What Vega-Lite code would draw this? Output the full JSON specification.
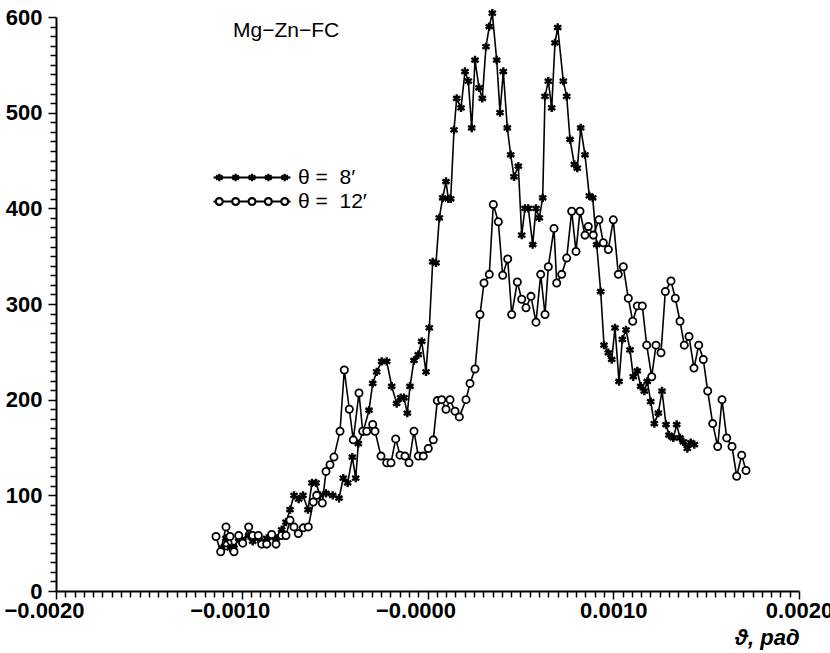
{
  "$schema": "https://vega.github.io/schema/vega-lite/v6.json",
  "width": 743,
  "height": 574,
  "autosize": "none",
  "padding": {"left": 56, "top": 17, "right": 31, "bottom": 62},
  "background": "white",
  "config": {"view": {"stroke": null}, "font": "Liberation Sans"},
  "title": {"text": "Mg−Zn−FC", "anchor": "start", "frame": "group", "offset": 0, "dx": 177, "dy": 54, "baseline": "alphabetic", "fontSize": 21, "fontWeight": "normal", "font": "Liberation Sans", "color": "black"},
  "data": {"values": [
    {"theta": "θ = 8′", "x": -0.0011063, "y": 45},
    {"theta": "θ = 8′", "x": -0.0010848, "y": 55},
    {"theta": "θ = 8′", "x": -0.0010633, "y": 45},
    {"theta": "θ = 8′", "x": -0.0010417, "y": 45},
    {"theta": "θ = 8′", "x": -0.0010164, "y": 55},
    {"theta": "θ = 8′", "x": -0.0009949, "y": 52},
    {"theta": "θ = 8′", "x": -0.0009626, "y": 58},
    {"theta": "θ = 8′", "x": -0.000941, "y": 52},
    {"theta": "θ = 8′", "x": -0.0009109, "y": 55},
    {"theta": "θ = 8′", "x": -0.0008926, "y": 52},
    {"theta": "θ = 8′", "x": -0.0008657, "y": 55},
    {"theta": "θ = 8′", "x": -0.0008388, "y": 58},
    {"theta": "θ = 8′", "x": -0.0008156, "y": 55},
    {"theta": "θ = 8′", "x": -0.0007849, "y": 64},
    {"theta": "θ = 8′", "x": -0.0007618, "y": 72},
    {"theta": "θ = 8′", "x": -0.0007402, "y": 85},
    {"theta": "θ = 8′", "x": -0.0007187, "y": 100},
    {"theta": "θ = 8′", "x": -0.0006934, "y": 96},
    {"theta": "θ = 8′", "x": -0.0006703, "y": 100},
    {"theta": "θ = 8′", "x": -0.0006433, "y": 85},
    {"theta": "θ = 8′", "x": -0.0006218, "y": 113},
    {"theta": "θ = 8′", "x": -0.0006003, "y": 113},
    {"theta": "θ = 8′", "x": -0.0005787, "y": 100},
    {"theta": "θ = 8′", "x": -0.0005464, "y": 102},
    {"theta": "θ = 8′", "x": -0.0005103, "y": 100},
    {"theta": "θ = 8′", "x": -0.0004764, "y": 97},
    {"theta": "θ = 8′", "x": -0.0004533, "y": 118},
    {"theta": "θ = 8′", "x": -0.0004296, "y": 113},
    {"theta": "θ = 8′", "x": -0.0004048, "y": 140},
    {"theta": "θ = 8′", "x": -0.0003865, "y": 118},
    {"theta": "θ = 8′", "x": -0.0003725, "y": 154},
    {"theta": "θ = 8′", "x": -0.0003456, "y": 167},
    {"theta": "θ = 8′", "x": -0.0003149, "y": 189},
    {"theta": "θ = 8′", "x": -0.000295, "y": 217},
    {"theta": "θ = 8′", "x": -0.0002735, "y": 229},
    {"theta": "θ = 8′", "x": -0.0002466, "y": 240},
    {"theta": "θ = 8′", "x": -0.0002196, "y": 240},
    {"theta": "θ = 8′", "x": -0.0001927, "y": 214},
    {"theta": "θ = 8′", "x": -0.0001658, "y": 196},
    {"theta": "θ = 8′", "x": -0.0001443, "y": 202},
    {"theta": "θ = 8′", "x": -0.0001265, "y": 202},
    {"theta": "θ = 8′", "x": -0.0001087, "y": 186},
    {"theta": "θ = 8′", "x": -0.0000942, "y": 214},
    {"theta": "θ = 8′", "x": -0.0000727, "y": 241},
    {"theta": "θ = 8′", "x": -0.0000495, "y": 247},
    {"theta": "θ = 8′", "x": -0.0000312, "y": 261},
    {"theta": "θ = 8′", "x": -0.0000081, "y": 229},
    {"theta": "θ = 8′", "x": 0.0000097, "y": 275},
    {"theta": "θ = 8′", "x": 0.000028, "y": 344},
    {"theta": "θ = 8′", "x": 0.0000458, "y": 343},
    {"theta": "θ = 8′", "x": 0.0000635, "y": 390},
    {"theta": "θ = 8′", "x": 0.0000818, "y": 411},
    {"theta": "θ = 8′", "x": 0.0000996, "y": 428},
    {"theta": "θ = 8′", "x": 0.000112, "y": 410},
    {"theta": "θ = 8′", "x": 0.0001249, "y": 410},
    {"theta": "θ = 8′", "x": 0.0001427, "y": 482},
    {"theta": "θ = 8′", "x": 0.0001572, "y": 515},
    {"theta": "θ = 8′", "x": 0.0001804, "y": 505},
    {"theta": "θ = 8′", "x": 0.0002019, "y": 543},
    {"theta": "θ = 8′", "x": 0.0002197, "y": 533},
    {"theta": "θ = 8′", "x": 0.000238, "y": 484},
    {"theta": "θ = 8′", "x": 0.0002557, "y": 555},
    {"theta": "θ = 8′", "x": 0.0002773, "y": 526},
    {"theta": "θ = 8′", "x": 0.000295, "y": 515},
    {"theta": "θ = 8′", "x": 0.0003149, "y": 569},
    {"theta": "θ = 8′", "x": 0.0003327, "y": 590},
    {"theta": "θ = 8′", "x": 0.0003489, "y": 604},
    {"theta": "θ = 8′", "x": 0.0003726, "y": 555},
    {"theta": "θ = 8′", "x": 0.0003903, "y": 500},
    {"theta": "θ = 8′", "x": 0.0004081, "y": 543},
    {"theta": "θ = 8′", "x": 0.0004296, "y": 484},
    {"theta": "θ = 8′", "x": 0.0004479, "y": 456},
    {"theta": "θ = 8′", "x": 0.0004657, "y": 433},
    {"theta": "θ = 8′", "x": 0.0004889, "y": 444},
    {"theta": "θ = 8′", "x": 0.0005072, "y": 372},
    {"theta": "θ = 8′", "x": 0.0005249, "y": 400},
    {"theta": "θ = 8′", "x": 0.0005427, "y": 400},
    {"theta": "θ = 8′", "x": 0.0005664, "y": 362},
    {"theta": "θ = 8′", "x": 0.0005841, "y": 400},
    {"theta": "θ = 8′", "x": 0.0006019, "y": 390},
    {"theta": "θ = 8′", "x": 0.0006202, "y": 411},
    {"theta": "θ = 8′", "x": 0.0006326, "y": 517},
    {"theta": "θ = 8′", "x": 0.0006504, "y": 533},
    {"theta": "θ = 8′", "x": 0.0006687, "y": 505},
    {"theta": "θ = 8′", "x": 0.0006864, "y": 573},
    {"theta": "θ = 8′", "x": 0.000701, "y": 589},
    {"theta": "θ = 8′", "x": 0.0007311, "y": 533},
    {"theta": "θ = 8′", "x": 0.0007494, "y": 517},
    {"theta": "θ = 8′", "x": 0.0007672, "y": 472},
    {"theta": "θ = 8′", "x": 0.0007903, "y": 446},
    {"theta": "θ = 8′", "x": 0.0008065, "y": 442},
    {"theta": "θ = 8′", "x": 0.0008248, "y": 484},
    {"theta": "θ = 8′", "x": 0.0008479, "y": 456},
    {"theta": "θ = 8′", "x": 0.0008711, "y": 413},
    {"theta": "θ = 8′", "x": 0.0008894, "y": 411},
    {"theta": "θ = 8′", "x": 0.0009109, "y": 362},
    {"theta": "θ = 8′", "x": 0.0009324, "y": 313},
    {"theta": "θ = 8′", "x": 0.0009502, "y": 257},
    {"theta": "θ = 8′", "x": 0.0009734, "y": 249},
    {"theta": "θ = 8′", "x": 0.0009917, "y": 242},
    {"theta": "θ = 8′", "x": 0.0010094, "y": 275},
    {"theta": "θ = 8′", "x": 0.001031, "y": 219},
    {"theta": "θ = 8′", "x": 0.0010488, "y": 263},
    {"theta": "θ = 8′", "x": 0.0010687, "y": 273},
    {"theta": "θ = 8′", "x": 0.0010902, "y": 252},
    {"theta": "θ = 8′", "x": 0.001108, "y": 224},
    {"theta": "θ = 8′", "x": 0.0011295, "y": 230},
    {"theta": "θ = 8′", "x": 0.0011478, "y": 214},
    {"theta": "θ = 8′", "x": 0.0011672, "y": 209},
    {"theta": "θ = 8′", "x": 0.0011834, "y": 219},
    {"theta": "θ = 8′", "x": 0.0012017, "y": 198},
    {"theta": "θ = 8′", "x": 0.001221, "y": 175},
    {"theta": "θ = 8′", "x": 0.0012426, "y": 186},
    {"theta": "θ = 8′", "x": 0.0012625, "y": 209},
    {"theta": "θ = 8′", "x": 0.001284, "y": 174},
    {"theta": "θ = 8′", "x": 0.0013001, "y": 163},
    {"theta": "θ = 8′", "x": 0.0013233, "y": 160},
    {"theta": "θ = 8′", "x": 0.0013416, "y": 174},
    {"theta": "θ = 8′", "x": 0.0013594, "y": 160},
    {"theta": "θ = 8′", "x": 0.0013771, "y": 156},
    {"theta": "θ = 8′", "x": 0.0013987, "y": 149},
    {"theta": "θ = 8′", "x": 0.001417, "y": 155},
    {"theta": "θ = 8′", "x": 0.0014364, "y": 153},
    {"theta": "θ = 12′", "x": -0.0011386, "y": 57},
    {"theta": "θ = 12′", "x": -0.0011133, "y": 41},
    {"theta": "θ = 12′", "x": -0.0010848, "y": 67},
    {"theta": "θ = 12′", "x": -0.0010633, "y": 57},
    {"theta": "θ = 12′", "x": -0.0010417, "y": 41},
    {"theta": "θ = 12′", "x": -0.0010164, "y": 58},
    {"theta": "θ = 12′", "x": -0.0009949, "y": 50},
    {"theta": "θ = 12′", "x": -0.0009626, "y": 67},
    {"theta": "θ = 12′", "x": -0.000941, "y": 58},
    {"theta": "θ = 12′", "x": -0.0009109, "y": 58},
    {"theta": "θ = 12′", "x": -0.0008926, "y": 49},
    {"theta": "θ = 12′", "x": -0.0008657, "y": 49},
    {"theta": "θ = 12′", "x": -0.0008388, "y": 59},
    {"theta": "θ = 12′", "x": -0.0008156, "y": 49},
    {"theta": "θ = 12′", "x": -0.0007849, "y": 58},
    {"theta": "θ = 12′", "x": -0.0007618, "y": 58},
    {"theta": "θ = 12′", "x": -0.0007402, "y": 74},
    {"theta": "θ = 12′", "x": -0.0007187, "y": 67},
    {"theta": "θ = 12′", "x": -0.0006955, "y": 60},
    {"theta": "θ = 12′", "x": -0.0006686, "y": 66},
    {"theta": "θ = 12′", "x": -0.0006417, "y": 67},
    {"theta": "θ = 12′", "x": -0.0006148, "y": 93},
    {"theta": "θ = 12′", "x": -0.0005965, "y": 100},
    {"theta": "θ = 12′", "x": -0.0005663, "y": 92},
    {"theta": "θ = 12′", "x": -0.0005464, "y": 125},
    {"theta": "θ = 12′", "x": -0.0005249, "y": 132},
    {"theta": "θ = 12′", "x": -0.0005034, "y": 140},
    {"theta": "θ = 12′", "x": -0.0004711, "y": 167},
    {"theta": "θ = 12′", "x": -0.0004479, "y": 231},
    {"theta": "θ = 12′", "x": -0.000421, "y": 190},
    {"theta": "θ = 12′", "x": -0.0003995, "y": 158},
    {"theta": "θ = 12′", "x": -0.0003688, "y": 207},
    {"theta": "θ = 12′", "x": -0.0003488, "y": 167},
    {"theta": "θ = 12′", "x": -0.0003273, "y": 167},
    {"theta": "θ = 12′", "x": -0.000295, "y": 174},
    {"theta": "θ = 12′", "x": -0.0002826, "y": 167},
    {"theta": "θ = 12′", "x": -0.0002503, "y": 141},
    {"theta": "θ = 12′", "x": -0.0002196, "y": 134},
    {"theta": "θ = 12′", "x": -0.0001965, "y": 134},
    {"theta": "θ = 12′", "x": -0.0001712, "y": 159},
    {"theta": "θ = 12′", "x": -0.000148, "y": 142},
    {"theta": "θ = 12′", "x": -0.0001211, "y": 141},
    {"theta": "θ = 12′", "x": -0.0000996, "y": 134},
    {"theta": "θ = 12′", "x": -0.0000727, "y": 167},
    {"theta": "θ = 12′", "x": -0.0000495, "y": 141},
    {"theta": "θ = 12′", "x": -0.0000226, "y": 141},
    {"theta": "θ = 12′", "x": 0.0000043, "y": 149},
    {"theta": "θ = 12′", "x": 0.0000312, "y": 158},
    {"theta": "θ = 12′", "x": 0.0000528, "y": 199},
    {"theta": "θ = 12′", "x": 0.0000765, "y": 200},
    {"theta": "θ = 12′", "x": 0.0000996, "y": 190},
    {"theta": "θ = 12′", "x": 0.0001211, "y": 200},
    {"theta": "θ = 12′", "x": 0.0001481, "y": 188},
    {"theta": "θ = 12′", "x": 0.0001712, "y": 182},
    {"theta": "θ = 12′", "x": 0.0002073, "y": 200},
    {"theta": "θ = 12′", "x": 0.0002288, "y": 217},
    {"theta": "θ = 12′", "x": 0.0002557, "y": 232},
    {"theta": "θ = 12′", "x": 0.0002826, "y": 289},
    {"theta": "θ = 12′", "x": 0.0003042, "y": 322},
    {"theta": "θ = 12′", "x": 0.0003327, "y": 331},
    {"theta": "θ = 12′", "x": 0.0003543, "y": 404},
    {"theta": "θ = 12′", "x": 0.0003812, "y": 386},
    {"theta": "θ = 12′", "x": 0.0004049, "y": 330},
    {"theta": "θ = 12′", "x": 0.0004318, "y": 347},
    {"theta": "θ = 12′", "x": 0.0004533, "y": 289},
    {"theta": "θ = 12′", "x": 0.0004835, "y": 323},
    {"theta": "θ = 12′", "x": 0.0005072, "y": 305},
    {"theta": "θ = 12′", "x": 0.0005303, "y": 296},
    {"theta": "θ = 12′", "x": 0.0005572, "y": 308},
    {"theta": "θ = 12′", "x": 0.0005841, "y": 281},
    {"theta": "θ = 12′", "x": 0.0006094, "y": 331},
    {"theta": "θ = 12′", "x": 0.0006326, "y": 289},
    {"theta": "θ = 12′", "x": 0.0006504, "y": 339},
    {"theta": "θ = 12′", "x": 0.000681, "y": 379},
    {"theta": "θ = 12′", "x": 0.0006956, "y": 322},
    {"theta": "θ = 12′", "x": 0.0007225, "y": 331},
    {"theta": "θ = 12′", "x": 0.0007494, "y": 348},
    {"theta": "θ = 12′", "x": 0.0007763, "y": 397},
    {"theta": "θ = 12′", "x": 0.0007995, "y": 355},
    {"theta": "θ = 12′", "x": 0.000821, "y": 397},
    {"theta": "θ = 12′", "x": 0.0008479, "y": 372},
    {"theta": "θ = 12′", "x": 0.0008657, "y": 381},
    {"theta": "θ = 12′", "x": 0.0008927, "y": 372},
    {"theta": "θ = 12′", "x": 0.0009232, "y": 388},
    {"theta": "θ = 12′", "x": 0.0009465, "y": 364},
    {"theta": "θ = 12′", "x": 0.0009734, "y": 357},
    {"theta": "θ = 12′", "x": 0.0010003, "y": 388},
    {"theta": "θ = 12′", "x": 0.0010272, "y": 331},
    {"theta": "θ = 12′", "x": 0.0010542, "y": 339},
    {"theta": "θ = 12′", "x": 0.0010811, "y": 306},
    {"theta": "θ = 12′", "x": 0.0011048, "y": 282},
    {"theta": "θ = 12′", "x": 0.0011295, "y": 298},
    {"theta": "θ = 12′", "x": 0.0011564, "y": 298},
    {"theta": "θ = 12′", "x": 0.0011801, "y": 257},
    {"theta": "θ = 12′", "x": 0.001207, "y": 224},
    {"theta": "θ = 12′", "x": 0.0012302, "y": 257},
    {"theta": "θ = 12′", "x": 0.0012571, "y": 249},
    {"theta": "θ = 12′", "x": 0.0012803, "y": 313},
    {"theta": "θ = 12′", "x": 0.0013109, "y": 324},
    {"theta": "θ = 12′", "x": 0.0013341, "y": 306},
    {"theta": "θ = 12′", "x": 0.0013594, "y": 282},
    {"theta": "θ = 12′", "x": 0.0013825, "y": 257},
    {"theta": "θ = 12′", "x": 0.0014078, "y": 266},
    {"theta": "θ = 12′", "x": 0.0014347, "y": 233},
    {"theta": "θ = 12′", "x": 0.00146, "y": 257},
    {"theta": "θ = 12′", "x": 0.0014848, "y": 242},
    {"theta": "θ = 12′", "x": 0.0015085, "y": 209},
    {"theta": "θ = 12′", "x": 0.0015354, "y": 175},
    {"theta": "θ = 12′", "x": 0.0015623, "y": 151},
    {"theta": "θ = 12′", "x": 0.0015855, "y": 200},
    {"theta": "θ = 12′", "x": 0.0016108, "y": 160},
    {"theta": "θ = 12′", "x": 0.0016393, "y": 151},
    {"theta": "θ = 12′", "x": 0.0016646, "y": 120},
    {"theta": "θ = 12′", "x": 0.0016915, "y": 142},
    {"theta": "θ = 12′", "x": 0.0017147, "y": 126}
  ]},
  "encoding": {
    "x": {
      "field": "x", "type": "quantitative",
      "scale": {"domain": [-0.002, 0.002], "nice": false, "zero": false},
      "axis": {
        "values": [-0.002,-0.00195,-0.0019,-0.00185,-0.0018,-0.00175,-0.0017,-0.00165,-0.0016,-0.00155,-0.0015,-0.00145,-0.0014,-0.00135,-0.0013,-0.00125,-0.0012,-0.00115,-0.0011,-0.00105,-0.001,-0.00095,-0.0009,-0.00085,-0.0008,-0.00075,-0.0007,-0.00065,-0.0006,-0.00055,-0.0005,-0.00045,-0.0004,-0.00035,-0.0003,-0.00025,-0.0002,-0.00015,-0.0001,-0.00005,0,0.00005,0.0001,0.00015,0.0002,0.00025,0.0003,0.00035,0.0004,0.00045,0.0005,0.00055,0.0006,0.00065,0.0007,0.00075,0.0008,0.00085,0.0009,0.00095,0.001,0.00105,0.0011,0.00115,0.0012,0.00125,0.0013,0.00135,0.0014,0.00145,0.0015,0.00155,0.0016,0.00165,0.0017,0.00175,0.0018,0.00185,0.0019,0.00195,0.002],
        "grid": false,
        "domainColor": "black", "domainWidth": 2,
        "tickColor": "black", "tickWidth": 1.5,
        "tickSize": {"condition": {"test": "abs(datum.value*1000 - round(datum.value*1000)) < 1e-6", "value": 8}, "value": 6},
        "labelExpr": "abs(datum.value*1000 - round(datum.value*1000)) < 1e-6 ? (abs(datum.value) < 1e-9 ? '−0.0000' : format(datum.value, '.4f')) : ''",
        "labelOffset": {"condition": {"test": "datum.value < 0.0001", "value": -12}, "value": 0},
        "labelFontSize": 22, "labelFontWeight": "bold", "labelColor": "black", "labelPadding": 1,
        "labelOverlap": false, "labelFlush": false,
        "title": "ϑ, рад", "titleAnchor": "end", "titleAlign": "right",
        "titleFontSize": 22, "titleFontStyle": "italic", "titleFontWeight": "bold",
        "titleColor": "black", "titlePadding": 6
      }
    },
    "y": {
      "field": "y", "type": "quantitative",
      "scale": {"domain": [0, 600], "nice": false},
      "axis": {
        "values": [0,10,20,30,40,50,60,70,80,90,100,110,120,130,140,150,160,170,180,190,200,210,220,230,240,250,260,270,280,290,300,310,320,330,340,350,360,370,380,390,400,410,420,430,440,450,460,470,480,490,500,510,520,530,540,550,560,570,580,590,600],
        "grid": false,
        "domainColor": "black", "domainWidth": 2,
        "tickColor": "black", "tickWidth": 1.5,
        "tickSize": {"condition": {"test": "datum.value % 100 == 0", "value": 8}, "value": 6},
        "labelExpr": "datum.value % 100 == 0 ? datum.label : ''",
        "labelFontSize": 22, "labelFontWeight": "bold", "labelColor": "black", "labelPadding": 6,
        "labelOverlap": false, "labelFlush": false,
        "title": null
      }
    }
  },
  "layer": [
    {
      "mark": {"type": "line", "color": "black", "strokeWidth": 1.6},
      "encoding": {"detail": {"field": "theta"}}
    },
    {
      "transform": [{"filter": "datum.theta == 'θ = 8′'"}],
      "mark": {"type": "point", "shape": "M0,-1L0,1M-0.866,-0.5L0.866,0.5M-0.866,0.5L0.866,-0.5", "size": 70, "filled": false, "stroke": "black", "strokeWidth": 2.4, "opacity": 1}
    },
    {
      "transform": [{"filter": "datum.theta == 'θ = 12′'"}],
      "mark": {"type": "point", "shape": "circle", "size": 52, "fill": "white", "stroke": "black", "strokeWidth": 1.8, "opacity": 1}
    },
    {
      "transform": [{"filter": "false"}],
      "mark": {"type": "point", "filled": false, "color": "black", "strokeWidth": 2, "size": 5929, "opacity": 1},
      "encoding": {
        "shape": {
          "field": "theta", "type": "nominal",
          "scale": {
            "domain": ["θ = 8′", "θ = 12′"],
            "range": [
              "M-1,0L1,0M-0.85,-0.1L-0.85,0.1M-0.937,-0.05L-0.763,0.05M-0.937,0.05L-0.763,-0.05M-0.425,-0.1L-0.425,0.1M-0.512,-0.05L-0.338,0.05M-0.512,0.05L-0.338,-0.05M0,-0.1L0,0.1M-0.087,-0.05L0.087,0.05M-0.087,0.05L0.087,-0.05M0.425,-0.1L0.425,0.1M0.338,-0.05L0.512,0.05M0.338,0.05L0.512,-0.05M0.85,-0.1L0.85,0.1M0.763,-0.05L0.937,0.05M0.763,0.05L0.937,-0.05",
              "M-1,0L-0.94,0M-0.76,0L-0.515,0M-0.335,0L-0.09,0M0.09,0L0.335,0M0.515,0L0.76,0M0.94,0L1,0M-0.76,0A0.09,0.09 0 1,1 -0.94,0A0.09,0.09 0 1,1 -0.76,0M-0.335,0A0.09,0.09 0 1,1 -0.515,0A0.09,0.09 0 1,1 -0.335,0M0.09,0A0.09,0.09 0 1,1 -0.09,0A0.09,0.09 0 1,1 0.09,0M0.515,0A0.09,0.09 0 1,1 0.335,0A0.09,0.09 0 1,1 0.515,0M0.94,0A0.09,0.09 0 1,1 0.76,0A0.09,0.09 0 1,1 0.94,0"
            ]
          },
          "legend": {
            "orient": "none", "legendX": 156, "legendY": 149,
            "title": null, "symbolSize": 5929, "symbolStrokeWidth": 2.2,
            "symbolStrokeColor": "black", "symbolFillColor": "transparent",
            "clipHeight": 23, "rowPadding": 1,
            "labelExpr": "replace(datum.label, '= ', '=\u00a0 ')",
            "labelFontSize": 21, "labelOffset": 6, "labelColor": "black",
            "labelFont": "Liberation Sans"
          }
        }
      }
    }
  ]
}
